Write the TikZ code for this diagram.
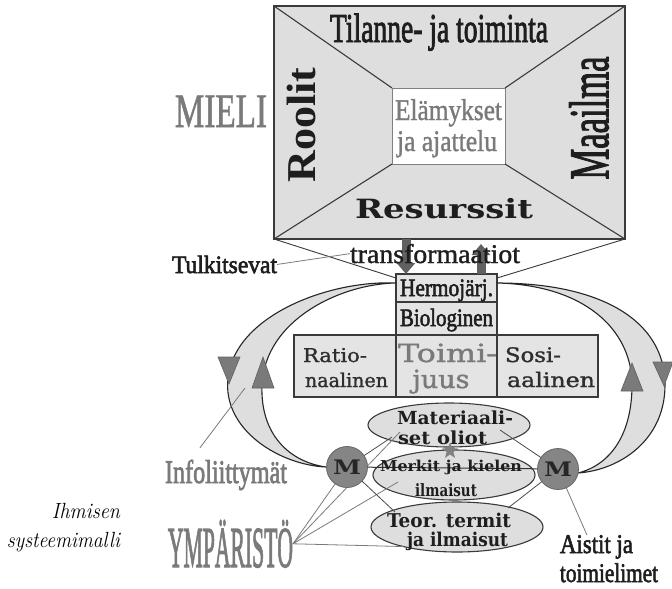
\documentclass[tikz,border=0pt]{standalone}
\usepackage{fontspec}
\usepackage{graphicx}
\usetikzlibrary{shapes.geometric,arrows.meta,calc}
\newfontfamily\tms{Liberation Serif}
\newfontfamily\tmsm[FakeBold=1.3]{Liberation Serif}
\newfontfamily\tmsh[FakeBold=2.4]{Liberation Serif}
\newfontfamily\dvs{DejaVu Serif}
\newfontfamily\dvsm[FakeBold=1.3]{DejaVu Serif}
\newcommand\fsz[1]{\fontsize{#1pt}{#1pt}\selectfont}
% set a line of text to a fixed width, keeping its height
\newcommand\fitw[2]{\resizebox{#1pt}{\height}{#2}}
\definecolor{boxfill}{HTML}{DEDEDE}
\definecolor{cellfill}{HTML}{E4E4E4}
\definecolor{edgegray}{HTML}{3A3A3A}
\definecolor{softtext}{HTML}{7A7A7A}
\definecolor{darktext}{HTML}{1E1E1E}
\definecolor{threadgray}{HTML}{7A7A7A}
\definecolor{knobgray}{HTML}{858585}
\begin{document}
\begin{tikzpicture}[x=1pt,y=-1pt,
  lbl/.style={inner sep=0pt, outer sep=0pt, anchor=base},
  panel/.style={rectangle, draw=edgegray, line width=1.2pt, fill=boxfill, inner sep=0pt, outer sep=0pt},
  cell/.style={rectangle, draw=edgegray, line width=1.1pt, fill=cellfill, inner sep=0pt, outer sep=0pt},
  oval/.style={ellipse, draw=edgegray, line width=1.1pt, fill=boxfill, inner sep=0pt, outer sep=0pt},
  knobnode/.style={circle, draw=black!60, line width=0.8pt, fill=knobgray, minimum size=41pt, inner sep=0pt, outer sep=0pt},
  thread/.style={draw=threadgray, line width=0.8pt},
  darkthread/.style={draw=black!70, line width=0.8pt},
  spoke/.style={draw=edgegray, line width=1.1pt},
  crescent/.style={fill=boxfill, draw=black!85, line width=1.1pt},
  headtri/.style={fill=black!52, draw=black!62, line width=0.6pt},
  flow/.style={draw=black!62, line width=9pt, -{Triangle[length=11pt,width=18pt]}}
]
\useasboundingbox (0,0) rectangle (672,589);
\fill[white] (0,0) rectangle (672,589);

% ---- the mind panel
\node[panel, minimum width=351pt, minimum height=233pt] (mind) at (449.5,122.5) {};
\node[rectangle, draw=black!50, line width=1pt, fill=white, inner sep=0pt, outer sep=0pt,
      minimum width=113pt, minimum height=76pt] (core) at (448.5,126) {};
\foreach \c in {north west, north east, south west, south east}
  \draw[spoke] (mind.\c) -- (core.\c);

\node[lbl, text=darktext] (title) at (439,42) {\tmsh\fsz{41}\fitw{218}{Tilanne- ja toiminta}};
\node[lbl, text=softtext] (mieli) at (221,127) {\tmsm\fsz{48}\fitw{92}{MIELI}};
\node[lbl, text=softtext] (exp1) at (448.5,120) {\tmsm\fsz{30}\fitw{107}{Elämykset}};
\node[lbl, text=softtext] (exp2) at (447,151) {\tmsm\fsz{30}\fitw{100}{ja ajattelu}};
\node[inner sep=0pt, rotate=90, text=darktext] (roles) at (301,125) {\tms\bfseries\fsz{41}\fitw{115}{Roolit}};
\node[inner sep=0pt, rotate=90, text=darktext] (world) at (589,118) {\tmsh\fsz{56}\fitw{123}{Maailma}};
\node[lbl, text=darktext] (res) at (444,218) {\dvs\bfseries\fsz{26.5}\fitw{178}{Resurssit}};

% ---- the body column
\draw[spoke, line width=0.9pt] (mind.south west) -- (396,278);
\draw[spoke, line width=0.9pt] (mind.south east) -- (497,278);

\node[cell, minimum width=101pt, minimum height=28pt] (herm) at (446.5,288) {};
\node[cell, minimum width=101pt, minimum height=33pt] (bio) at (446.5,318.5) {};
\node[cell, minimum width=102pt, minimum height=62pt] (rat) at (345,366) {};
\node[cell, minimum width=101pt, minimum height=62pt] (act) at (446.5,366) {};
\node[cell, minimum width=101pt, minimum height=62pt] (soc) at (547.5,366) {};

\node[lbl, text=darktext] (hermt) at (446.5,296) {\tmsh\fsz{25}\fitw{93}{Hermojärj.}};
\node[lbl, text=darktext] (biot) at (446.5,326) {\tmsh\fsz{25}\fitw{93}{Biologinen}};
\node[lbl, anchor=base west, text=black!82] (rat1) at (303,362) {\dvsm\fsz{19}\fitw{64}{Ratio-}};
\node[lbl, anchor=base west, text=black!82] (rat2) at (305,387) {\dvsm\fsz{19}\fitw{83}{naalinen}};
\node[lbl, anchor=base west, text=black!82] (soc1) at (505,362) {\dvsm\fsz{20}\fitw{56}{Sosi-}};
\node[lbl, anchor=base west, text=black!82] (soc2) at (507,387) {\dvsm\fsz{20}\fitw{88}{aalinen}};
\node[lbl, text=softtext] (act1) at (447.5,362) {\dvsm\fsz{25}\fitw{99}{Toimi-}};
\node[lbl, text=softtext] (act2) at (441,388) {\dvsm\fsz{25}\fitw{57}{juus}};

% ---- anchor points of the two M knobs
\coordinate (lmc) at (347,467);
\coordinate (rmc) at (558,469);
\coordinate (lc) at ($(herm.north west)+(0,9)$);
\coordinate (rc) at ($(herm.north east)+(0,9)$);
\coordinate (lmw) at ($(lmc)+(-21,0)$);
\coordinate (rme) at ($(rmc)+(20,4)$);

% ---- the two feedback crescents
\filldraw[crescent] (lc) .. controls (330,280) and (235,315) .. (228,378)
   .. controls (222,430) and (280,465) .. (lmw)
   .. controls (290,462) and (260,435) .. (262,385)
   .. controls (265,320) and (340,284) .. (lc) -- cycle;
\filldraw[crescent] (rc) .. controls (600,283) and (665,320) .. (665,385)
   .. controls (665,440) and (620,470) .. (rme)
   .. controls (610,465) and (632,435) .. (632,385)
   .. controls (632,330) and (585,285) .. (rc) -- cycle;
\filldraw[headtri] (218,357) -- (240,357) -- (229,384) -- cycle;
\filldraw[headtri] (252,388) -- (274,388) -- (263,357) -- cycle;
\filldraw[headtri] (621,391) -- (643,391) -- (632,363) -- cycle;
\filldraw[headtri] (653,362) -- (673,362) -- (664,386) -- cycle;

% ---- transformations between mind and body
\draw[flow] ($(mind.south west)+(132,0)$) -- ($(herm.north west)+(10,0)$);
\draw[flow] ($(herm.north west)+(85,0)$) -- ($(mind.south west)+(207,5)$);
\node[lbl, text=darktext] (tulk) at (224.5,273) {\tmsh\fsz{25}\fitw{105}{Tulkitsevat}};
\node[lbl, text=darktext] (trans) at (435,263) {\tmsm\fsz{27}\fitw{170}{transformaatiot}};
\draw[thread] (tulk.east) -- (trans.west);

% ---- the environment ovals
\node[oval, minimum width=162pt, minimum height=44pt] (mat) at (449,425) {};
\node[oval, minimum width=162pt, minimum height=50pt] (mer) at (454,475) {};
\node[oval, minimum width=172pt, minimum height=50pt] (teor) at (457,527) {};

% ---- outer labels
\node[lbl, text=softtext] (info) at (226,483) {\tmsh\fsz{33}\fitw{122}{Infoliittymät}};
\node[lbl, text=softtext] (ymp) at (230.5,567) {\tmsh\fsz{58}\fitw{125}{YMPÄRISTÖ}};
\node[lbl, anchor=base east] (cap1) at (120,518) {\itshape\fsz{22}\fitw{68}{Ihmisen}};
\node[lbl, anchor=base east] (cap2) at (120,547) {\itshape\fsz{22}\fitw{113}{systeemimalli}};
\node[lbl, anchor=base west, text=darktext] (ais1) at (560,553) {\tmsh\fsz{27}\fitw{73}{Aistit ja}};
\node[lbl, anchor=base west, text=darktext] (ais2) at (560,582) {\tmsh\fsz{27}\fitw{98}{toimielimet}};

% ---- connecting threads
\coordinate (infotip) at (245,388);
\draw[thread] ($(info.north west)+(35,-12)$) -- (infotip);
\draw[thread] (ymp.east) -- (lmc);
\draw[thread] (ymp.east) -- ($(mat.center)+(-49,7)$);
\draw[thread] (ymp.east) -- ($(mer.center)+(-56,7)$);
\draw[thread] (ymp.east) -- (teor.200);
\draw[darkthread] (lmc) -- ($(mat.center)+(-57,12)$);
\draw[darkthread] (lmc) -- ($(teor.center)+(-62,-15)$);
\draw[darkthread] (rmc) -- ($(mat.center)+(51,5)$);
\draw[darkthread] (rmc) -- ($(teor.center)+(51,-19)$);
\draw[thread] (rmc) -- ($(ais1.north west)+(27,0)$);
\draw[draw=black!80, line width=1pt] (lmc) -- (rmc);

% ---- the M knobs and the star
\node[knobnode] (lm) at (lmc) {\dvs\bfseries\fsz{20}\color{black!85}\fitw{28}{M}};
\node[knobnode] (rm) at (rmc) {\dvs\bfseries\fsz{20}\color{black!85}\fitw{28}{M}};
\node[star, star points=5, star point ratio=2.4, fill=black!50, inner sep=0pt, minimum size=17pt] (spark) at (450,451) {};

% ---- oval texts
\node[lbl, text=darktext] (mat1) at (455,424) {\dvs\bfseries\fsz{18}\fitw{116}{Materiaali-}};
\node[lbl, text=darktext] (mat2) at (442.5,444) {\dvs\bfseries\fsz{18}\fitw{89}{set oliot}};
\node[lbl, text=darktext] (mer1) at (451,471) {\dvs\bfseries\fsz{15}\fitw{142}{Merkit ja kielen}};
\node[lbl, text=darktext] (mer2) at (446,496) {\dvs\bfseries\fsz{17}\fitw{62}{ilmaisut}};
\node[lbl, text=darktext] (teo1) at (449,527) {\dvs\bfseries\fsz{19}\fitw{124}{Teor. termit}};
\node[lbl, text=darktext] (teo2) at (457.5,546) {\dvs\bfseries\fsz{19}\fitw{101}{ja ilmaisut}};
\end{tikzpicture}
\end{document}
